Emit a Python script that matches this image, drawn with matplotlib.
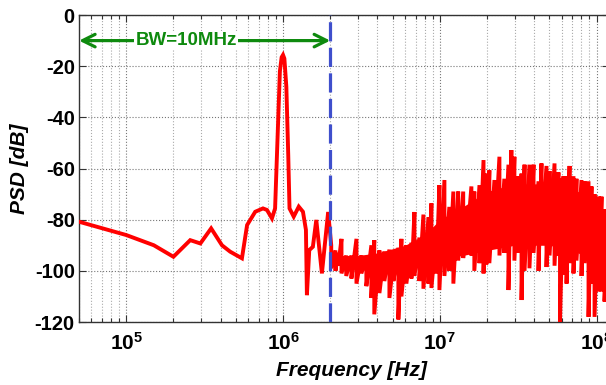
import matplotlib
matplotlib.use("Agg")
import matplotlib.pyplot as plt
from matplotlib.ticker import FuncFormatter, LogLocator, NullFormatter
import numpy as np

# smooth part of the PSD below the band edge (Hz, dB)
low_freq = [5.0e4, 1.0e5, 1.5e5, 2.0e5, 2.56e5, 2.97e5, 3.48e5, 4.08e5, 4.6e5,
            5.47e5, 5.9e5, 6.65e5, 7.45e5, 7.9e5, 8.5e5, 8.9e5, 9.2e5, 9.55e5,
            9.8e5, 1.0e6, 1.02e6, 1.05e6, 1.08e6, 1.1e6, 1.17e6, 1.26e6, 1.34e6,
            1.40e6, 1.42e6, 1.47e6, 1.55e6, 1.63e6, 1.77e6, 1.94e6]
low_psd = [-80.8, -86, -90, -94.5, -88, -89.3, -83.4, -90, -92.5,
           -95.1, -82.1, -76.9, -75.6, -76.2, -79.5, -75.6, -50, -22,
           -16.5, -15.6, -17, -28, -55, -75.6, -78.8, -74.9, -76.9,
           -84, -109.5, -91.9, -90.6, -80.1, -101, -77]

# noisy part: per frequency, upper and lower excursion (MHz, dB)
noise_mhz = [2.03, 2.16, 2.25, 2.36, 2.53, 2.73, 2.94, 3.16, 3.40, 3.66, 3.82,
             4.12, 4.43, 4.77, 5.06, 5.44, 5.69, 6.12, 6.59, 6.89, 7.41, 7.86,
             8.46, 8.84, 9.51, 9.94, 10.7, 11.5, 12.2, 13.1, 14.1, 14.8, 15.9,
             16.6, 17.9, 19.0, 19.8, 20.7, 22.3, 24.0, 25.8, 27.4, 28.6, 29.9,
             31.7, 33.2, 34.7, 37.3, 39.6, 42.6, 44.5, 47.9, 50.1, 53.9, 57.1,
             58.4, 61.5, 64.3, 67.2, 71.2, 74.4, 80.1, 83.7, 88.8, 92.8, 97.0,
             102.8, 107.5, 112.3, 119.1]
noise_hi = [-90, -92, -93, -87.5, -94, -94, -87.5, -94, -95, -90, -88,
            -92, -92.5, -91.7, -96, -91, -87.5, -90, -89, -77, -87, -78,
            -79, -73.6, -85, -66.5, -64.5, -75, -69, -69, -69, -80, -67,
            -69, -66.5, -56.7, -62, -60.7, -64.5, -55.4, -64, -58.5, -52.8, -55.4,
            -63, -62, -58.5, -58.5, -58.5, -65, -58, -59, -61, -58, -61.5,
            -64, -63, -63, -59, -63, -64, -64.5, -65, -65, -67, -70,
            -71, -71, -76, -80]
noise_lo = [-99, -100, -98, -101, -102, -103, -105, -101, -106, -110.6, -117,
            -108.7, -104, -110.6, -104, -119, -110, -105, -103, -102, -104, -107,
            -105, -106.7, -101, -107.5, -102, -100, -105, -96, -95, -91, -94,
            -100, -97, -101, -97.5, -97, -91, -94, -93, -107.5, -90, -96,
            -93, -111.4, -100, -99, -93, -100, -88, -98.5, -94, -98, -94,
            -120.5, -101.4, -105, -97, -101, -96, -102, -97, -118, -105, -118,
            -108, -108, -112, -114]

# solid core of the noise band (MHz, dB)
core_mhz = [2.0, 3.0, 4.0, 6.0, 8.0, 10, 14, 20, 30, 50, 70, 90, 105, 120]
core_top = [-94, -94, -93, -90, -86, -80, -75, -69, -66, -66, -68, -71, -77, -85]
core_bot = [-97, -98, -99, -98, -97, -95, -94, -92, -90, -90, -92, -95, -99, -104]

bw_edge = 2e6
xticks = [1e5, 1e6, 1e7, 1e8]
yticks = [0, -20, -40, -60, -80, -100, -120]

plt.rcParams.update({
    "font.family": "Liberation Sans",
    "font.weight": "bold",
    "axes.unicode_minus": False,
    "mathtext.fontset": "custom",
    "mathtext.rm": "Liberation Sans:bold",
    "mathtext.bf": "Liberation Sans:bold",
    "mathtext.it": "Liberation Sans:bold:italic",
})

fig = plt.figure(figsize=(6.06, 3.85), dpi=100)
ax = fig.add_axes([0.1304, 0.1636, 0.8746, 0.7974])

# interleave upper/lower excursions to get the dense noisy trace
nf = np.repeat(np.array(noise_mhz) * 1e6, 2)
npsd = np.column_stack([noise_hi, noise_lo]).ravel()
freq = np.concatenate([low_freq, nf])
psd = np.concatenate([low_psd, npsd])

ax.fill_between(np.array(core_mhz) * 1e6, core_top, core_bot, color="#ff0000", lw=0, zorder=3)
ax.plot(freq, psd, color="#ff0000", lw=2.8, solid_joinstyle="miter", zorder=3)
ax.axvline(bw_edge, color="#3f4fcc", lw=2.3, dashes=(6, 2), zorder=4)

ax.annotate("", xy=(5e4, -10), xytext=(bw_edge, -10),
            arrowprops=dict(arrowstyle="<->,head_length=0.9,head_width=0.45",
                            color="#0e8a0e", lw=2.3, shrinkA=0, shrinkB=0),
            zorder=5)
ax.text(2.42e5, -10, "BW=10MHz", color="#0e8a0e", fontsize=13.5,
        fontweight="bold", ha="center", va="center",
        bbox=dict(facecolor="white", edgecolor="none", pad=1.0), zorder=6)

ax.set_xscale("log")
ax.set_xlim(5e4, 1.2e8)
ax.set_ylim(-120, 0)
ax.set_yticks(yticks)
ax.set_xticks(xticks)
ax.xaxis.set_minor_locator(LogLocator(base=10, subs=np.arange(2, 10)))
ax.xaxis.set_minor_formatter(NullFormatter())
ax.xaxis.set_major_formatter(FuncFormatter(lambda v, p: r"$\mathbf{10^{%d}}$" % round(np.log10(v))))

ax.tick_params(which="both", direction="in", top=True, right=True, width=0.8, color="#333333")
ax.tick_params(which="major", length=5)
ax.tick_params(which="minor", length=3)
ax.tick_params(axis="x", labelsize=15, pad=7)
ax.tick_params(axis="y", labelsize=14.5, pad=3)

ax.grid(True, which="major", ls=":", lw=0.8, color="#777777")
ax.grid(True, which="minor", axis="x", ls=":", lw=0.8, color="#aaaaaa")
ax.set_axisbelow(True)
for s in ax.spines.values():
    s.set_color("#333333")
    s.set_linewidth(1.0)

ax.set_xlabel("Frequency [Hz]", fontsize=15, fontweight="bold", style="italic")
ax.set_ylabel("PSD [dB]", fontsize=15, fontweight="bold", style="italic")
ax.xaxis.set_label_coords(0.5145, -0.127)
ax.yaxis.set_label_coords(-0.095, 0.5)

fig.savefig("out.png", dpi=100)
